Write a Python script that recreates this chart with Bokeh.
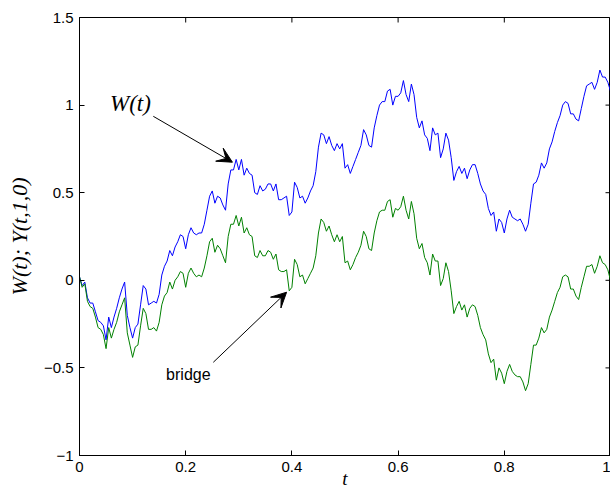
import math
from bokeh.plotting import figure
from bokeh.models import FixedTicker, Range1d, Label, Arrow, VeeHead, ColumnDataSource
from bokeh.embed import file_html
from bokeh.resources import INLINE

# ---- data ----
t = [0.000, 0.005, 0.010, 0.015, 0.020, 0.025, 0.030, 0.035, 0.040, 0.045,
     0.050, 0.055, 0.060, 0.065, 0.070, 0.075, 0.080, 0.085, 0.090, 0.095,
     0.100, 0.105, 0.110, 0.115, 0.120, 0.125, 0.130, 0.135, 0.140, 0.145,
     0.150, 0.155, 0.160, 0.165, 0.170, 0.175, 0.180, 0.185, 0.190, 0.195,
     0.200, 0.205, 0.210, 0.215, 0.220, 0.225, 0.230, 0.235, 0.240, 0.245,
     0.250, 0.255, 0.260, 0.265, 0.270, 0.275, 0.280, 0.285, 0.290, 0.295,
     0.300, 0.305, 0.310, 0.315, 0.320, 0.325, 0.330, 0.335, 0.340, 0.345,
     0.350, 0.355, 0.360, 0.365, 0.370, 0.375, 0.380, 0.385, 0.390, 0.395,
     0.400, 0.405, 0.410, 0.415, 0.420, 0.425, 0.430, 0.435, 0.440, 0.445,
     0.450, 0.455, 0.460, 0.465, 0.470, 0.475, 0.480, 0.485, 0.490, 0.495,
     0.500, 0.505, 0.510, 0.515, 0.520, 0.525, 0.530, 0.535, 0.540, 0.545,
     0.550, 0.555, 0.560, 0.565, 0.570, 0.575, 0.580, 0.585, 0.590, 0.595,
     0.600, 0.605, 0.610, 0.615, 0.620, 0.625, 0.630, 0.635, 0.640, 0.645,
     0.650, 0.655, 0.660, 0.665, 0.670, 0.675, 0.680, 0.685, 0.690, 0.695,
     0.700, 0.705, 0.710, 0.715, 0.720, 0.725, 0.730, 0.735, 0.740, 0.745,
     0.750, 0.755, 0.760, 0.765, 0.770, 0.775, 0.780, 0.785, 0.790, 0.795,
     0.800, 0.805, 0.810, 0.815, 0.820, 0.825, 0.830, 0.835, 0.840, 0.845,
     0.850, 0.855, 0.860, 0.865, 0.870, 0.875, 0.880, 0.885, 0.890, 0.895,
     0.900, 0.905, 0.910, 0.915, 0.920, 0.925, 0.930, 0.935, 0.940, 0.945,
     0.950, 0.955, 0.960, 0.965, 0.970, 0.975, 0.980, 0.985, 0.990, 0.995,
     1.000]

w_path = [0.02, -0.03, -0.01, -0.10, -0.13, -0.13, -0.18, -0.23, -0.24, -0.26,
          -0.34, -0.21, -0.27, -0.21, -0.16, -0.10, -0.05, -0.01, -0.20, -0.27,
          -0.33, -0.27, -0.25, -0.14, -0.03, -0.05, -0.14, -0.13, -0.12, -0.13,
          -0.08, 0.03, 0.08, 0.11, 0.17, 0.14, 0.19, 0.22, 0.26, 0.25,
          0.18, 0.26, 0.30, 0.27, 0.26, 0.27, 0.27, 0.32, 0.40, 0.48,
          0.51, 0.44, 0.48, 0.47, 0.43, 0.40, 0.55, 0.63, 0.63, 0.69,
          0.63, 0.69, 0.60, 0.64, 0.61, 0.60, 0.50, 0.49, 0.54, 0.51,
          0.52, 0.55, 0.55, 0.51, 0.55, 0.46, 0.46, 0.47, 0.48, 0.37,
          0.39, 0.56, 0.53, 0.47, 0.48, 0.44, 0.47, 0.51, 0.54, 0.62,
          0.76, 0.84, 0.83, 0.78, 0.82, 0.77, 0.74, 0.78, 0.75, 0.78,
          0.64, 0.66, 0.61, 0.65, 0.69, 0.73, 0.77, 0.86, 0.83, 0.77,
          0.76, 0.87, 0.94, 1.00, 1.02, 1.02, 1.08, 1.09, 1.00, 1.05,
          1.05, 1.07, 1.14, 1.06, 1.02, 1.12, 1.06, 0.93, 0.87, 0.91,
          0.83, 0.81, 0.74, 0.87, 0.83, 0.84, 0.70, 0.75, 0.84, 0.80,
          0.70, 0.57, 0.62, 0.65, 0.61, 0.64, 0.58, 0.63, 0.66, 0.66,
          0.61, 0.55, 0.51, 0.49, 0.41, 0.37, 0.39, 0.28, 0.35, 0.33,
          0.27, 0.35, 0.40, 0.36, 0.35, 0.34, 0.35, 0.32, 0.28, 0.32,
          0.44, 0.55, 0.56, 0.60, 0.67, 0.64, 0.67, 0.75, 0.79, 0.85,
          0.90, 0.94, 1.00, 1.02, 1.01, 0.95, 0.95, 0.92, 0.91, 0.98,
          1.05, 1.11, 1.12, 1.13, 1.09, 1.13, 1.20, 1.16, 1.16, 1.13,
          1.08]

bridge_path = [0.02, -0.04, -0.02, -0.12, -0.15, -0.16, -0.21, -0.27, -0.28, -0.31,
               -0.39, -0.27, -0.33, -0.28, -0.24, -0.18, -0.14, -0.10, -0.30, -0.37,
               -0.44, -0.38, -0.37, -0.26, -0.16, -0.19, -0.28, -0.28, -0.27, -0.29,
               -0.24, -0.14, -0.09, -0.07, -0.01, -0.05, 0.00, 0.02, 0.05, 0.04,
               -0.04, 0.04, 0.07, 0.04, 0.02, 0.03, 0.02, 0.07, 0.14, 0.22,
               0.24, 0.16, 0.20, 0.18, 0.14, 0.10, 0.25, 0.32, 0.32, 0.37,
               0.31, 0.36, 0.27, 0.30, 0.26, 0.25, 0.14, 0.13, 0.17, 0.14,
               0.14, 0.17, 0.16, 0.12, 0.15, 0.06, 0.05, 0.05, 0.06, -0.06,
               -0.04, 0.12, 0.09, 0.02, 0.03, -0.02, 0.01, 0.04, 0.07, 0.14,
               0.27, 0.35, 0.33, 0.28, 0.31, 0.26, 0.22, 0.26, 0.22, 0.25,
               0.10, 0.11, 0.06, 0.09, 0.13, 0.16, 0.20, 0.28, 0.25, 0.18,
               0.17, 0.27, 0.34, 0.39, 0.40, 0.40, 0.45, 0.46, 0.36, 0.41,
               0.40, 0.42, 0.48, 0.40, 0.35, 0.45, 0.38, 0.24, 0.18, 0.21,
               0.13, 0.10, 0.03, 0.15, 0.11, 0.11, -0.03, 0.01, 0.10, 0.05,
               -0.06, -0.19, -0.15, -0.12, -0.17, -0.14, -0.21, -0.16, -0.14, -0.15,
               -0.20, -0.27, -0.31, -0.34, -0.42, -0.47, -0.45, -0.57, -0.50, -0.53,
               -0.59, -0.52, -0.48, -0.52, -0.54, -0.55, -0.55, -0.58, -0.63, -0.59,
               -0.48, -0.37, -0.37, -0.33, -0.27, -0.30, -0.28, -0.21, -0.17, -0.12,
               -0.07, -0.04, 0.02, 0.03, 0.02, -0.05, -0.05, -0.09, -0.11, -0.04,
               0.02, 0.08, 0.08, 0.09, 0.04, 0.08, 0.14, 0.10, 0.09, 0.06,
               0.00]

x_ticks = [0, 0.2, 0.4, 0.6, 0.8, 1]
x_tick_labels = ["0", "0.2", "0.4", "0.6", "0.8", "1"]
y_ticks = [-1, -0.5, 0, 0.5, 1, 1.5]
y_tick_labels = ["\u22121", "\u22120.5", "0", "0.5", "1", "1.5"]

# ---- figure ----
p = figure(width=610, height=493, x_range=Range1d(0, 1), y_range=Range1d(-1, 1.5),
           output_backend="svg", toolbar_location=None,
           min_border_left=79, min_border_right=0, min_border_top=17, min_border_bottom=38)
p.background_fill_color = "white"
p.border_fill_color = "white"
p.outline_line_color = "black"
p.outline_line_width = 1
p.grid.visible = False

src = ColumnDataSource(dict(t=t, w=w_path, b=bridge_path))
p.line("t", "w", source=src, line_color="#0000ff", line_width=1)
p.line("t", "b", source=src, line_color="#008000", line_width=1)

def style_axis(ax, ticks, labels):
    ax.ticker = FixedTicker(ticks=ticks)
    ax.major_label_overrides = {tk: lb for tk, lb in zip(ticks, labels)}
    ax.major_tick_in = 5
    ax.major_tick_out = 0
    ax.minor_tick_in = 0
    ax.minor_tick_out = 0
    ax.axis_line_color = "black"
    ax.major_tick_line_color = "black"
    ax.major_label_text_font = "Liberation Sans"
    ax.major_label_text_color = "black"
    ax.major_label_text_font_size = "15px"
    ax.major_label_standoff = 6
    ax.axis_label_text_font = "Liberation Serif"
    ax.axis_label_text_font_style = "italic"
    ax.axis_label_text_color = "black"

style_axis(p.xaxis[0], x_ticks, x_tick_labels)
style_axis(p.yaxis[0], y_ticks, y_tick_labels)
p.xaxis[0].axis_label = "t"
p.xaxis[0].axis_label_text_font_size = "19px"
p.xaxis[0].axis_label_standoff = -7
p.yaxis[0].axis_label = "W(t); Y(t,1,0)"
p.yaxis[0].axis_label_text_font_size = "22px"
p.yaxis[0].axis_label_standoff = 9

# box ticks on the top and right edges (matlab style, pointing inward)
p.ray(x=x_ticks, y=1.5, length=5, length_units="screen", angle=-math.pi / 2,
      line_color="black", line_width=1)
p.ray(x=1.0, y=y_ticks, length=5, length_units="screen", angle=math.pi,
      line_color="black", line_width=1)

# annotations
p.add_layout(Label(x=0.096, y=1.01, text="W(t)", text_font="Liberation Serif",
                   text_font_style="italic", text_font_size="23px",
                   text_align="center", text_baseline="middle", text_color="black"))
p.add_layout(Arrow(end=VeeHead(size=15, fill_color="black", line_color="black"),
                   x_start=0.139, y_start=0.936, x_end=0.288, y_end=0.674,
                   line_color="black", line_width=1))
p.add_layout(Label(x=0.205, y=-0.54, text="bridge", text_font="Liberation Sans",
                   text_font_size="16px", text_align="center", text_baseline="middle",
                   text_color="black"))
p.add_layout(Arrow(end=VeeHead(size=15, fill_color="black", line_color="black"),
                   x_start=0.252, y_start=-0.468, x_end=0.39, y_end=-0.068,
                   line_color="black", line_width=1))

open("out.html", "w").write(file_html(p, INLINE))
